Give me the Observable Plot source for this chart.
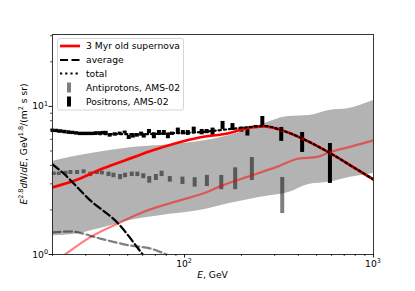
<!DOCTYPE html>
<html><head><meta charset="utf-8">
<script src="https://cdn.jsdelivr.net/npm/d3@7"></script>
<script src="https://cdn.jsdelivr.net/npm/@observablehq/plot@0.6"></script>
<style>body{margin:0;background:#fff} svg{font-family:"DejaVu Sans",sans-serif}</style>
</head><body><div id="chart"></div>
<script>
// ---- data ----
const bandE  = [20, 24.9, 35.8, 51.5, 74, 120, 173, 248, 356, 455, 581, 742, 1000];
const bandLo = [1.34, 1.36, 1.50, 1.70, 1.83, 1.98, 2.21, 2.43, 2.62, 2.97, 3.07, 3.31, 3.53];
const bandHi = [4.25, 4.54, 4.92, 5.26, 5.45, 5.80, 6.37, 7.43, 8.55, 8.68, 9.40, 9.69, 10.97];

const snE = [20, 26.3, 35.8, 48.2, 65.6, 120, 173, 208, 264, 317, 356, 419, 581, 787, 1000];
const snV = [2.84, 3.16, 3.75, 4.31, 4.98, 6.17, 6.62, 7.07, 7.33, 6.99, 6.64, 6.08, 4.89, 3.87, 3.21];

const snPbarE = [20, 22.85, 31.7, 45.6, 63.2, 94.6, 124.8, 158.9, 212.4, 305, 404, 497, 581, 742, 1000];
const snPbarV = [0.88, 0.985, 1.31, 1.646, 1.98, 2.32, 2.58, 2.93, 3.33, 3.89, 4.45, 4.54, 4.89, 5.31, 5.90];

const avgE = [20, 22.0, 31.7, 44.5, 59.5, 70];
const avgV = [4.06, 3.69, 2.32, 1.62, 1.016, 0.78];

const avgPbarE = [20, 24.9, 35.8, 51.5, 65.6, 83.6, 100];
const avgPbarV = [1.41, 1.43, 1.28, 1.15, 1.10, 0.98, 0.9];

const totE = [20, 25, 30, 40, 60, 90, 120, 160, 208, 264, 317, 356, 419, 581, 787, 1000];
const totV = [6.85, 6.65, 6.55, 6.5, 6.5, 6.6, 6.7, 6.95, 7.2, 7.38, 7.0, 6.64, 6.08, 4.89, 3.87, 3.21];

const posE  = [20.0, 20.98, 22.02, 23.10, 24.24, 25.43, 26.68, 27.99, 29.37, 30.81, 32.33, 33.92, 35.59, 36.9, 38.25,
               40.13, 42.66, 45.35, 48.2, 50.65, 53.22, 55.92, 58.89, 60.8, 64.8, 68.8, 73.2, 77.7, 81.6, 85.6,
               92.1, 97.9, 103.9, 111.8, 123.2, 130.9, 140.7, 158.9, 179.3, 200, 215.1, 237, 258, 324.8, 419, 588];
const posLo = [6.67, 6.65, 6.60, 6.54, 6.49, 6.45, 6.40, 6.35, 6.35, 6.35, 6.35, 6.40, 6.40, 6.43, 6.44,
               6.20, 6.30, 6.43, 6.53, 5.98, 6.11, 6.20, 6.30, 6.11, 6.54, 6.05, 6.37, 6.37, 6.05, 6.37,
               6.54, 6.43, 6.37, 6.54, 6.43, 6.54, 6.31, 6.99, 6.88, 6.71, 6.31, 7.08, 7.21, 5.81, 4.89, 3.02];
const posHi = [7.03, 7.01, 6.96, 6.90, 6.85, 6.80, 6.75, 6.70, 6.70, 6.70, 6.70, 6.75, 6.75, 6.78, 6.79,
               6.54, 6.64, 6.71, 6.82, 6.37, 6.54, 6.54, 6.71, 6.54, 6.99, 6.64, 6.88, 6.88, 6.54, 6.71,
               7.14, 6.88, 6.88, 7.25, 6.99, 6.99, 7.14, 7.92, 7.66, 7.25, 7.25, 7.44, 8.55, 7.21, 6.67, 5.62];

const pbarE  = [20.32, 21.58, 23.41, 24.87, 26.98, 29.22, 31.70, 34.38, 36.52, 39.57, 42.03, 45.59, 48.44, 52.55,
                56.25, 60.47, 65.03, 70.50, 75.57, 83.56, 97.47, 113.1, 131.3, 156.4, 185.3, 227.1, 328.8];
const pbarLo = [3.42, 3.42, 3.42, 3.47, 3.47, 3.51, 3.36, 3.47, 3.45, 3.36, 3.30, 3.20, 3.30, 3.36,
                3.36, 3.25, 3.03, 3.16, 3.36, 3.08, 2.97, 2.85, 2.88, 2.74, 2.74, 3.16, 1.89];
const pbarHi = [3.60, 3.60, 3.65, 3.69, 3.69, 3.73, 3.60, 3.69, 3.65, 3.60, 3.54, 3.47, 3.54, 3.60,
                3.60, 3.51, 3.36, 3.47, 3.65, 3.36, 3.33, 3.30, 3.42, 3.42, 3.85, 4.52, 3.31];

const xMajor = [100, 1000];
const xMinor = [20, 30, 40, 50, 60, 70, 80, 90, 200, 300, 400, 500, 600, 700, 800, 900];
const yMajor = [1, 10];
const yMinor = [2, 3, 4, 5, 6, 7, 8, 9, 20, 30];

const legendLabels = ["3 Myr old supernova", "average", "total", "Antiprotons, AMS-02", "Positrons, AMS-02"];

// ---- tables ----
const band = bandE.map((E, i) => ({E, lo: bandLo[i], hi: bandHi[i]}));
const line = (xs, ys) => xs.map((E, i) => ({E, v: ys[i]}));
const pos = posE.map((E, i) => ({E, lo: posLo[i], hi: posHi[i]}));
const pbar = pbarE.map((E, i) => ({E, lo: pbarLo[i], hi: pbarHi[i]}));

const FS = 9.2;
const CURVE = "monotone-x";
const plot = Plot.plot({
  width: 415, height: 291,
  marginLeft: 52, marginRight: 42, marginTop: 34, marginBottom: 37,
  style: {fontFamily: "DejaVu Sans", fontSize: FS + "px", background: "#fff", color: "#000", overflow: "visible"},
  x: {type: "log", domain: [20, 1000], axis: null},
  y: {type: "log", domain: [1, 30.6], axis: null},
  marks: [
    Plot.areaY(band, {x: "E", y1: "lo", y2: "hi", fill: "#b3b3b3", curve: CURVE}),
    Plot.ruleX(pbar, {x: "E", y1: "lo", y2: "hi", stroke: "#000", strokeOpacity: 0.5, strokeWidth: 4}),
    Plot.ruleX(pos, {x: "E", y1: "lo", y2: "hi", stroke: "#000", strokeWidth: 4}),
    Plot.line(line(snE, snV), {x: "E", y: "v", stroke: "#ff0000", strokeWidth: 2.7, curve: CURVE, clip: true}),
    Plot.line(line(snPbarE, snPbarV), {x: "E", y: "v", stroke: "#ff0000", strokeOpacity: 0.5, strokeWidth: 2.2, curve: CURVE, clip: true}),
    Plot.line(line(avgPbarE, avgPbarV), {x: "E", y: "v", stroke: "#000", strokeOpacity: 0.5, strokeWidth: 2.2, strokeDasharray: "8,3.5", curve: CURVE, clip: true}),
    Plot.line(line(avgE, avgV), {x: "E", y: "v", stroke: "#000", strokeWidth: 2.2, strokeDasharray: "8,3.5", curve: CURVE, clip: true}),
    Plot.line(line(totE, totV), {x: "E", y: "v", stroke: "#000", strokeWidth: 2.2, strokeDasharray: "2.2,3", curve: CURVE, clip: true}),
    Plot.frame({stroke: "#222", strokeWidth: 0.9}),
    Plot.axisX({ticks: xMajor, tickSize: 3.5, tickFormat: () => "", label: null, strokeWidth: 0.9}),
    Plot.axisX({ticks: xMinor, tickSize: 2, tickFormat: () => "", label: null, strokeWidth: 0.7}),
    Plot.axisY({ticks: yMajor, tickSize: 3.5, tickFormat: () => "", label: null, strokeWidth: 0.9}),
    Plot.axisY({ticks: yMinor, tickSize: 2, tickFormat: () => "", label: null, strokeWidth: 0.7})
  ]
});
document.getElementById("chart").appendChild(plot);

const sx = plot.scale("x"), sy = plot.scale("y");
const svg = d3.select(plot);
const SUP = FS * 0.7, RAISE = FS * 0.4;

function richText(g, x, y, anchor, parts, transform) {
  const t = g.append("text").attr("x", x).attr("y", y).attr("text-anchor", anchor)
    .attr("font-size", FS).attr("fill", "#000").attr("font-family", "DejaVu Sans");
  if (transform) t.attr("transform", transform);
  let raised = false;
  parts.forEach(p => {
    const s = t.append("tspan").text(p.t);
    if (p.it) s.attr("font-style", "italic");
    if (p.sup) {
      s.attr("font-size", SUP);
      if (!raised) { s.attr("dy", -RAISE); raised = true; }
    } else if (raised) { s.attr("dy", RAISE); raised = false; }
  });
  return t;
}

const g = svg.append("g");
xMajor.forEach(v => richText(g, sx.apply(v), 266.5, "middle", [{t: "10"}, {t: String(Math.round(Math.log10(v))), sup: true}]));
yMajor.forEach(v => richText(g, 48, sy.apply(v) + 3.5, "end", [{t: "10"}, {t: String(Math.round(Math.log10(v))), sup: true}]));

richText(g, 212.5, 277.5, "middle", [{t: "E", it: true}, {t: ", GeV"}]);
richText(g, 0, 0, "middle", [
  {t: "E", it: true}, {t: "2.8", sup: true}, {t: "dN", it: true}, {t: "/"}, {t: "dE", it: true},
  {t: ", GeV"}, {t: "1.8", sup: true}, {t: "/(m"}, {t: "2", sup: true}, {t: " s sr)"}
], "translate(27,144) rotate(-90)");

// legend
const L = svg.append("g");
L.append("rect").attr("x", 57.5).attr("y", 38.5).attr("width", 126).attr("height", 71.5)
  .attr("rx", 2).attr("fill", "#fff").attr("fill-opacity", 0.85).attr("stroke", "#d0d0d0").attr("stroke-width", 0.9);
const rows = [46, 60, 73.5, 87.5, 101.5];
L.append("line").attr("x1", 60).attr("x2", 80).attr("y1", rows[0]).attr("y2", rows[0]).attr("stroke", "#ff0000").attr("stroke-width", 2.7);
L.append("line").attr("x1", 60).attr("x2", 80).attr("y1", rows[1]).attr("y2", rows[1]).attr("stroke", "#000").attr("stroke-width", 2.2).attr("stroke-dasharray", "8,3.5");
L.append("line").attr("x1", 60).attr("x2", 80).attr("y1", rows[2]).attr("y2", rows[2]).attr("stroke", "#000").attr("stroke-width", 2.2).attr("stroke-dasharray", "2.2,3");
L.append("line").attr("x1", 69).attr("x2", 69).attr("y1", rows[3] - 5).attr("y2", rows[3] + 5).attr("stroke", "#000").attr("stroke-opacity", 0.5).attr("stroke-width", 4);
L.append("line").attr("x1", 69).attr("x2", 69).attr("y1", rows[4] - 5).attr("y2", rows[4] + 5).attr("stroke", "#000").attr("stroke-width", 4);
legendLabels.forEach((s, i) => L.append("text").attr("x", 86).attr("y", rows[i] + 3.3).attr("font-size", FS)
  .attr("text-anchor", "start").attr("font-family", "DejaVu Sans").attr("fill", "#000").text(s));
</script>
</body></html>
